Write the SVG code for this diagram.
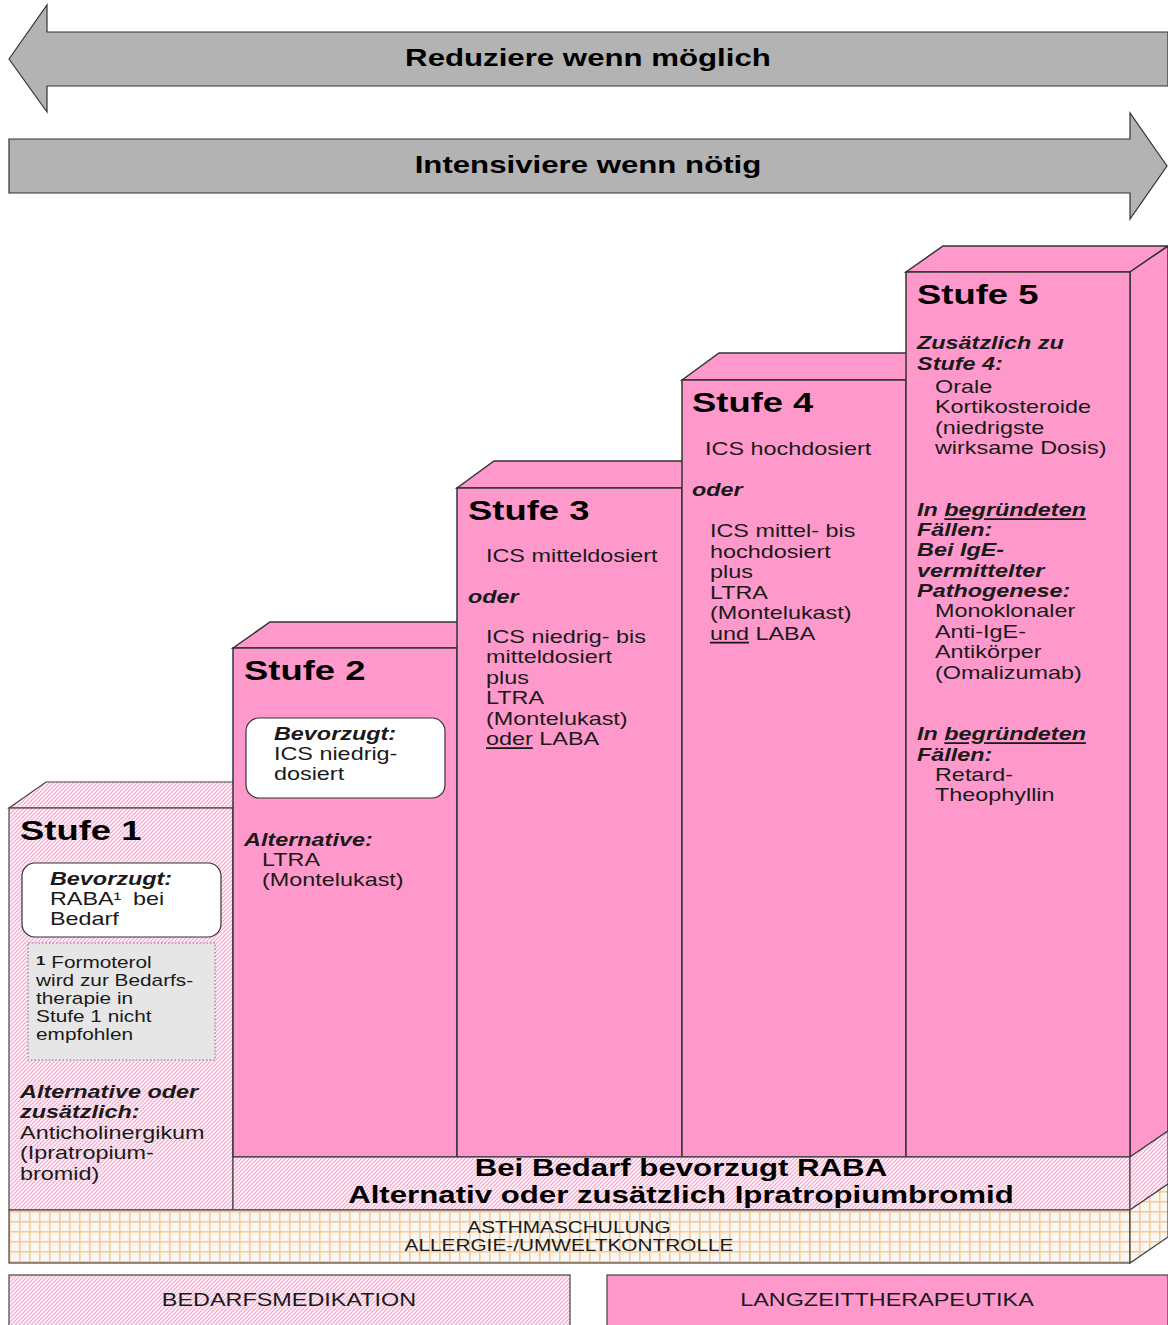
<svg xmlns="http://www.w3.org/2000/svg" width="1168" height="1325" viewBox="0 0 1168 1325">
<defs>
<pattern id="hatch" patternUnits="userSpaceOnUse" width="4" height="4">
<rect width="4" height="4" style="fill:#FFF4FA"/>
<polygon points="0,3.3 3.3,0 4,0 4,0.7 0.7,4 0,4" style="fill:#FF99CC"/>
<polygon points="0,0 0.7,0 0,0.7" style="fill:#FF99CC"/>
<polygon points="4,3.3 4,4 3.3,4" style="fill:#FF99CC"/>
</pattern>
<pattern id="grid" patternUnits="userSpaceOnUse" width="10" height="10" x="9" y="1211">
<rect width="10" height="10" style="fill:#FAF6F2"/>
<rect width="10" height="1.5" style="fill:#FFC78A"/>
<rect width="1.5" height="10" style="fill:#FFC78A"/>
</pattern>
<style>
.t{font-family:"Liberation Sans",Arial,sans-serif;font-size:18px;fill:#1a1a1a}
.h{font-weight:bold;font-style:italic}
.ti{font-size:28px;font-weight:bold;fill:#000}
.bt{font-weight:bold;font-size:24px;fill:#000}
.sm{font-size:16px}
.pink{fill:#FF99CC;stroke:#333;stroke-width:1.5}
.hat{fill:url(#hatch);stroke:#444;stroke-width:1.2}
.grd{fill:url(#grid);stroke:#444;stroke-width:1.2}
.arrow{fill:#B3B3B3;stroke:#333;stroke-width:1.2}
.box{fill:#fff;stroke:#333;stroke-width:1.2}
.u{text-decoration:underline}
</style>
</defs>
<rect width="1168" height="1325" fill="#fff"/>

<g id="arrow-reduce">
<polygon class="arrow" points="9,59 47,5 47,32 1168,32 1168,86 47,86 47,112"/>
<g transform="scale(1.3 1)"><text class="t bt" x="452.3" y="66.5" text-anchor="middle">Reduziere wenn möglich</text></g>
</g>
<g id="arrow-intensify">
<polygon class="arrow" points="9,139 1130,139 1130,113 1167,166 1130,219 1130,193 9,193"/>
<g transform="scale(1.3 1)"><text class="t bt" x="452.3" y="173.5" text-anchor="middle">Intensiviere wenn nötig</text></g>
</g>

<g id="stufe1">
<polygon class="hat" points="9,808 46,782 270,782 233,808"/>
<rect class="hat" x="9" y="808" width="224" height="402"/>
<rect class="box" x="22" y="863" width="199" height="74" rx="13"/>
<rect x="28" y="943" width="187" height="117" fill="#E6E6E6" stroke="#777" stroke-width="1" stroke-dasharray="1.5 2"/>
<g transform="translate(9 0) scale(1.3 1)">
<text class="t ti" x="8.5" y="840">Stufe 1</text>
<text class="t h" x="31.5" y="885">Bevorzugt:</text>
<text class="t" x="31.5" y="905">RABA¹ <tspan dx="4">bei</tspan></text>
<text class="t" x="31.5" y="925.5">Bedarf</text>
<text class="t sm" x="20.8" y="968"><tspan font-weight="bold" font-size="13" dy="-3">1</tspan><tspan dy="3"> Formoterol</tspan></text>
<text class="t sm" x="20.8" y="986">wird zur Bedarfs-</text>
<text class="t sm" x="20.8" y="1004">therapie in</text>
<text class="t sm" x="20.8" y="1022">Stufe 1 nicht</text>
<text class="t sm" x="20.8" y="1040">empfohlen</text>
<text class="t h" x="8.5" y="1098">Alternative oder</text>
<text class="t h" x="8.5" y="1118.5">zusätzlich:</text>
<text class="t" x="8.5" y="1139">Anticholinergikum</text>
<text class="t" x="8.5" y="1159.5">(Ipratropium-</text>
<text class="t" x="8.5" y="1180">bromid)</text>
</g>
</g>

<g id="stufe2">
<polygon class="pink" points="233,648 270,622 494,622 457,648"/>
<rect class="pink" x="233" y="648" width="224" height="509"/>
<rect class="box" x="246" y="718" width="199" height="80" rx="13"/>
<g transform="translate(233 0) scale(1.3 1)">
<text class="t ti" x="8.5" y="680">Stufe 2</text>
<text class="t h" x="31.5" y="740">Bevorzugt:</text>
<text class="t" x="31.5" y="760">ICS niedrig-</text>
<text class="t" x="31.5" y="780.5">dosiert</text>
<text class="t h" x="8.5" y="846">Alternative:</text>
<text class="t" x="22.3" y="866">LTRA</text>
<text class="t" x="22.3" y="886.5">(Montelukast)</text>
</g>
</g>

<g id="stufe3">
<polygon class="pink" points="457,488 494,461 719,461 682,488"/>
<rect class="pink" x="457" y="488" width="225" height="669"/>
<g transform="translate(457 0) scale(1.3 1)">
<text class="t ti" x="8.5" y="520">Stufe 3</text>
<text class="t" x="22.3" y="562">ICS mitteldosiert</text>
<text class="t h" x="8.5" y="603">oder</text>
<text class="t" x="22.3" y="643">ICS niedrig- bis</text>
<text class="t" x="22.3" y="663.5">mitteldosiert</text>
<text class="t" x="22.3" y="684">plus</text>
<text class="t" x="22.3" y="704.5">LTRA</text>
<text class="t" x="22.3" y="725">(Montelukast)</text>
<text class="t" x="22.3" y="745.5"><tspan class="u">oder</tspan> LABA</text>
</g>
</g>

<g id="stufe4">
<polygon class="pink" points="682,380 719,353 943,353 906,380"/>
<rect class="pink" x="682" y="380" width="224" height="777"/>
<g transform="translate(682 0) scale(1.3 1)">
<text class="t ti" x="7.7" y="412">Stufe 4</text>
<text class="t" x="17.7" y="455.5">ICS hochdosiert</text>
<text class="t h" x="7.7" y="496.5">oder</text>
<text class="t" x="21.5" y="537.5">ICS mittel- bis</text>
<text class="t" x="21.5" y="558">hochdosiert</text>
<text class="t" x="21.5" y="578.5">plus</text>
<text class="t" x="21.5" y="599">LTRA</text>
<text class="t" x="21.5" y="619.5">(Montelukast)</text>
<text class="t" x="21.5" y="640"><tspan class="u">und</tspan> LABA</text>
</g>
</g>

<g id="stufe5">
<polygon class="pink" points="906,272 943,246 1168,246 1130,272"/>
<polygon class="pink" points="1130,272 1168,246 1168,1131 1130,1157"/>
<rect class="pink" x="906" y="272" width="224" height="885"/>
<g transform="translate(906 0) scale(1.3 1)">
<text class="t ti" x="8.5" y="304">Stufe 5</text>
<text class="t h" x="8.5" y="349.5">Zusätzlich zu</text>
<text class="t h" x="8.5" y="370.5">Stufe 4:</text>
<text class="t" x="22.3" y="393.5">Orale</text>
<text class="t" x="22.3" y="413.5">Kortikosteroide</text>
<text class="t" x="22.3" y="434">(niedrigste</text>
<text class="t" x="22.3" y="454.5">wirksame Dosis)</text>
<text class="t h" x="8.5" y="516.5">In <tspan class="u">begründeten</tspan></text>
<text class="t h" x="8.5" y="536.5">Fällen:</text>
<text class="t h" x="8.5" y="556.5">Bei IgE-</text>
<text class="t h" x="8.5" y="577">vermittelter</text>
<text class="t h" x="8.5" y="597.5">Pathogenese:</text>
<text class="t" x="22.3" y="617.5">Monoklonaler</text>
<text class="t" x="22.3" y="638">Anti-IgE-</text>
<text class="t" x="22.3" y="658.5">Antikörper</text>
<text class="t" x="22.3" y="679">(Omalizumab)</text>
<text class="t h" x="8.5" y="740.5">In <tspan class="u">begründeten</tspan></text>
<text class="t h" x="8.5" y="761">Fällen:</text>
<text class="t" x="22.3" y="781">Retard-</text>
<text class="t" x="22.3" y="801.5">Theophyllin</text>
</g>
</g>

<g id="band-bedarf">
<rect class="hat" x="233" y="1157" width="897" height="53"/>
<polygon class="hat" points="1130,1157 1168,1131 1168,1184 1130,1210"/>
<g transform="scale(1.3 1)">
<text class="t bt" x="523.8" y="1176.5" text-anchor="middle">Bei Bedarf bevorzugt RABA</text>
<text class="t bt" x="523.8" y="1203" text-anchor="middle">Alternativ oder zusätzlich Ipratropiumbromid</text>
</g>
</g>

<g id="band-basis">
<rect class="grd" x="9" y="1210" width="1121" height="53"/>
<polygon class="grd" points="1130,1210 1168,1184 1168,1237 1130,1263"/>
<g transform="scale(1.3 1)">
<text class="t sm" x="437.7" y="1233" text-anchor="middle">ASTHMASCHULUNG</text>
<text class="t sm" x="437.7" y="1251" text-anchor="middle">ALLERGIE-/UMWELTKONTROLLE</text>
</g>
</g>

<g id="legend-bedarf">
<rect class="hat" x="9" y="1275" width="561" height="60"/>
<g transform="scale(1.3 1)"><text class="t" x="222.3" y="1306.5" text-anchor="middle">BEDARFSMEDIKATION</text></g>
</g>
<g id="legend-langzeit">
<rect x="607" y="1275" width="561" height="60" fill="#FF99CC" stroke="#444" stroke-width="1.2"/>
<g transform="scale(1.3 1)"><text class="t" x="682.3" y="1306.5" text-anchor="middle">LANGZEITTHERAPEUTIKA</text></g>
</g>

<g id="connectors"></g>
</svg>
